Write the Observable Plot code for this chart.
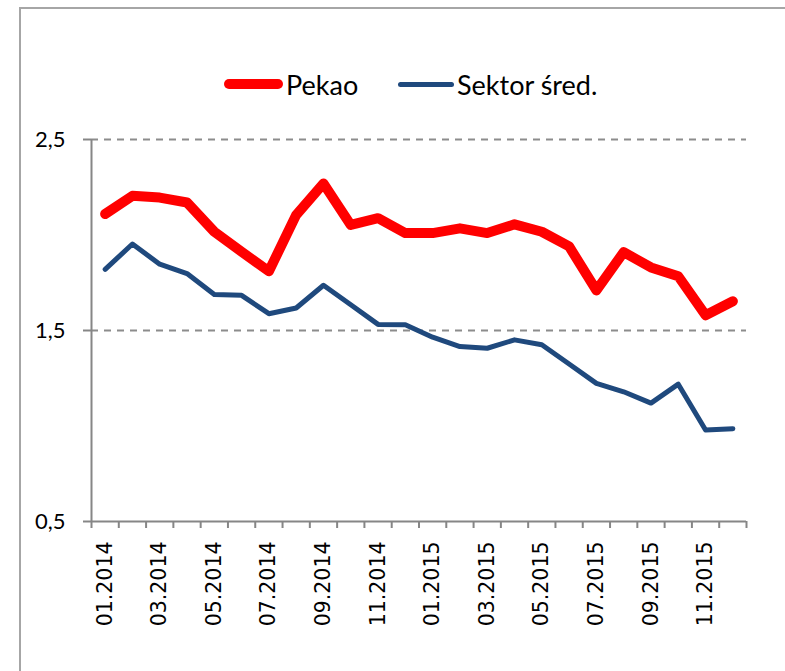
<!DOCTYPE html>
<html>
<head>
<meta charset="utf-8">
<script src="https://cdn.jsdelivr.net/npm/d3@7"></script>
<script src="https://cdn.jsdelivr.net/npm/@observablehq/plot@0.6"></script>
<style>
  html, body { margin: 0; padding: 0; background: #fff; }
  #wrap { position: relative; width: 785px; height: 671px; overflow: hidden; background: #fff; }
  #frame { position: absolute; left: 19px; top: 7px; width: 820px; height: 720px; border: 2px solid #a6a6a6; box-sizing: border-box; }
  #chart { position: absolute; left: 0; top: 0; }
  .leg { position: absolute; top: 66px; height: 36px; display: flex; align-items: center; font-family: Lato, sans-serif; font-size: 27px; color: #000; white-space: nowrap; }
  .sw { display: inline-block; border-radius: 6px; margin-right: 3px; }
</style>
</head>
<body>
<div id="wrap">
  <div id="frame"></div>
  <div id="chart"></div>
  <div class="leg" id="leg1" style="left:224px"><span class="sw" style="width:59px;height:10px;background:#ff0000"></span><span id="t1"></span></div>
  <div class="leg" id="leg2" style="left:398px"><span class="sw" style="width:56px;height:5px;background:#1f497d"></span><span id="t2"></span></div>
</div>
<script>
const months = ["01.2014","02.2014","03.2014","04.2014","05.2014","06.2014","07.2014","08.2014","09.2014","10.2014","11.2014","12.2014",
                "01.2015","02.2015","03.2015","04.2015","05.2015","06.2015","07.2015","08.2015","09.2015","10.2015","11.2015","12.2015"];
const seriesNames = ["Pekao", "Sektor śred."];
const pekao  = [2.11, 2.205, 2.196, 2.17, 2.017, 1.912, 1.81, 2.105, 2.27, 2.053, 2.088, 2.01,
                2.01, 2.035, 2.01, 2.056, 2.017, 1.94, 1.71, 1.91, 1.83, 1.784, 1.58, 1.653];
const sektor = [1.82, 1.953, 1.847, 1.798, 1.688, 1.684, 1.588, 1.618, 1.737, 1.635, 1.532, 1.53,
                1.465, 1.416, 1.407, 1.451, 1.425, 1.325, 1.223, 1.179, 1.12, 1.219, 0.979, 0.986];
const yTicks = [0.5, 1.5, 2.5];
const gridValues = [1.5, 2.5];
const labelEvery = 2;

document.getElementById("t1").textContent = seriesNames[0];
document.getElementById("t2").textContent = seriesNames[1];

const idx = months.map((_, i) => i);
const pekaoData = idx.map(i => ({i, v: pekao[i]}));
const sektorData = idx.map(i => ({i, v: sektor[i]}));
const boundaries = d3.range(months.length + 1).map(i => i - 0.5);
const labelIdx = idx.filter(i => i % labelEvery === 0);

const chart = Plot.plot({
  width: 785,
  height: 671,
  marginLeft: 91,
  marginRight: 39,
  marginTop: 139,
  marginBottom: 150,
  style: {background: "transparent", color: "#000"},
  x: {type: "linear", domain: [-0.5, months.length - 0.5]},
  y: {domain: [0.5, 2.5]},
  marks: [
    Plot.ruleY(gridValues, {stroke: "#8c8c8c", strokeWidth: 2, strokeDasharray: "7,6"}),
    Plot.axisY({ticks: yTicks, label: null, tickSize: 8, tickPadding: 18, tickFormat: d => d.toFixed(1).replace(".", ","),
                fontSize: 22, fontFamily: "Lato", stroke: "#868686", strokeWidth: 2, fill: "#000", strokeOpacity: 1}),
    Plot.axisX({ticks: boundaries, label: null, tickSize: 7, tickFormat: () => "", stroke: "#868686", strokeWidth: 2, strokeOpacity: 1}),
    Plot.axisX({ticks: labelIdx, label: null, tickSize: 0, tickPadding: 20, tickRotate: -90, tickFormat: i => months[i],
                fontSize: 20.5, fontFamily: "DejaVu Sans", fill: "#000"}),
    Plot.ruleX([-0.5], {stroke: "#868686", strokeWidth: 2}),
    Plot.ruleY([0.5], {stroke: "#868686", strokeWidth: 2}),
    Plot.line(sektorData, {x: "i", y: "v", stroke: "#1f497d", strokeWidth: 5, strokeLinejoin: "round", strokeLinecap: "round"}),
    Plot.line(pekaoData, {x: "i", y: "v", stroke: "#ff0000", strokeWidth: 10, strokeLinejoin: "round", strokeLinecap: "round"})
  ]
});
document.getElementById("chart").appendChild(chart);
</script>
</body>
</html>
